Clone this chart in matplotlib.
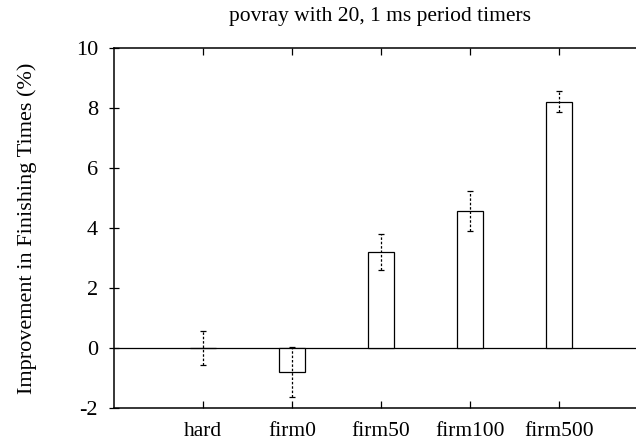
import matplotlib.pyplot as plt
import numpy as np

plt.rcParams['font.family'] = ['Liberation Serif', 'DejaVu Serif']

# datos
categorias = ['hard', 'firm0', 'firm50', 'firm100', 'firm500']
mejora = [0.0, -0.8, 3.2, 4.57, 8.21]
error = [0.58, 0.82, 0.6, 0.66, 0.35]
marcas_y = [-2, 0, 2, 4, 6, 8, 10]

fig = plt.figure(figsize=(6.36, 4.46), dpi=100)
ax = fig.add_axes([114/636, 38/446, 1 - 114/636, 360/446])

x = np.arange(1, len(categorias) + 1)
ax.bar(x, mejora, width=0.3, color='white', edgecolor='black', linewidth=0.9, zorder=2)
eb = ax.errorbar(x, mejora, yerr=error, fmt='none', ecolor='black', elinewidth=0.9,
                 capsize=2, capthick=0.9, zorder=3)
eb[2][0].set_linestyle((0, (2, 1.5)))
ax.axhline(0, color='black', linewidth=0.9, zorder=1)

ax.set_xlim(0, 522/89)
ax.set_ylim(-2, 10)
ax.set_yticks(marcas_y)
ax.set_yticklabels([str(v) for v in marcas_y])
ax.set_xticks(x)
ax.set_xticklabels(categorias, fontsize=15.5)
ax.tick_params(axis='y', direction='inout', length=7, labelsize=16, width=0.9, pad=8)
ax.tick_params(axis='x', direction='in', length=5, top=True, width=0.9, pad=10)
ax.spines['right'].set_visible(False)
for s in ['left', 'top', 'bottom']:
    ax.spines[s].set_linewidth(1.1)

ax.set_ylabel('Improvement in Finishing Times (%)', fontsize=16, labelpad=28)
fig.text(0.597, 0.985, 'povray with 20, 1 ms period timers', ha='center', va='top', fontsize=15.5)

plt.savefig('out.png', dpi=100)
